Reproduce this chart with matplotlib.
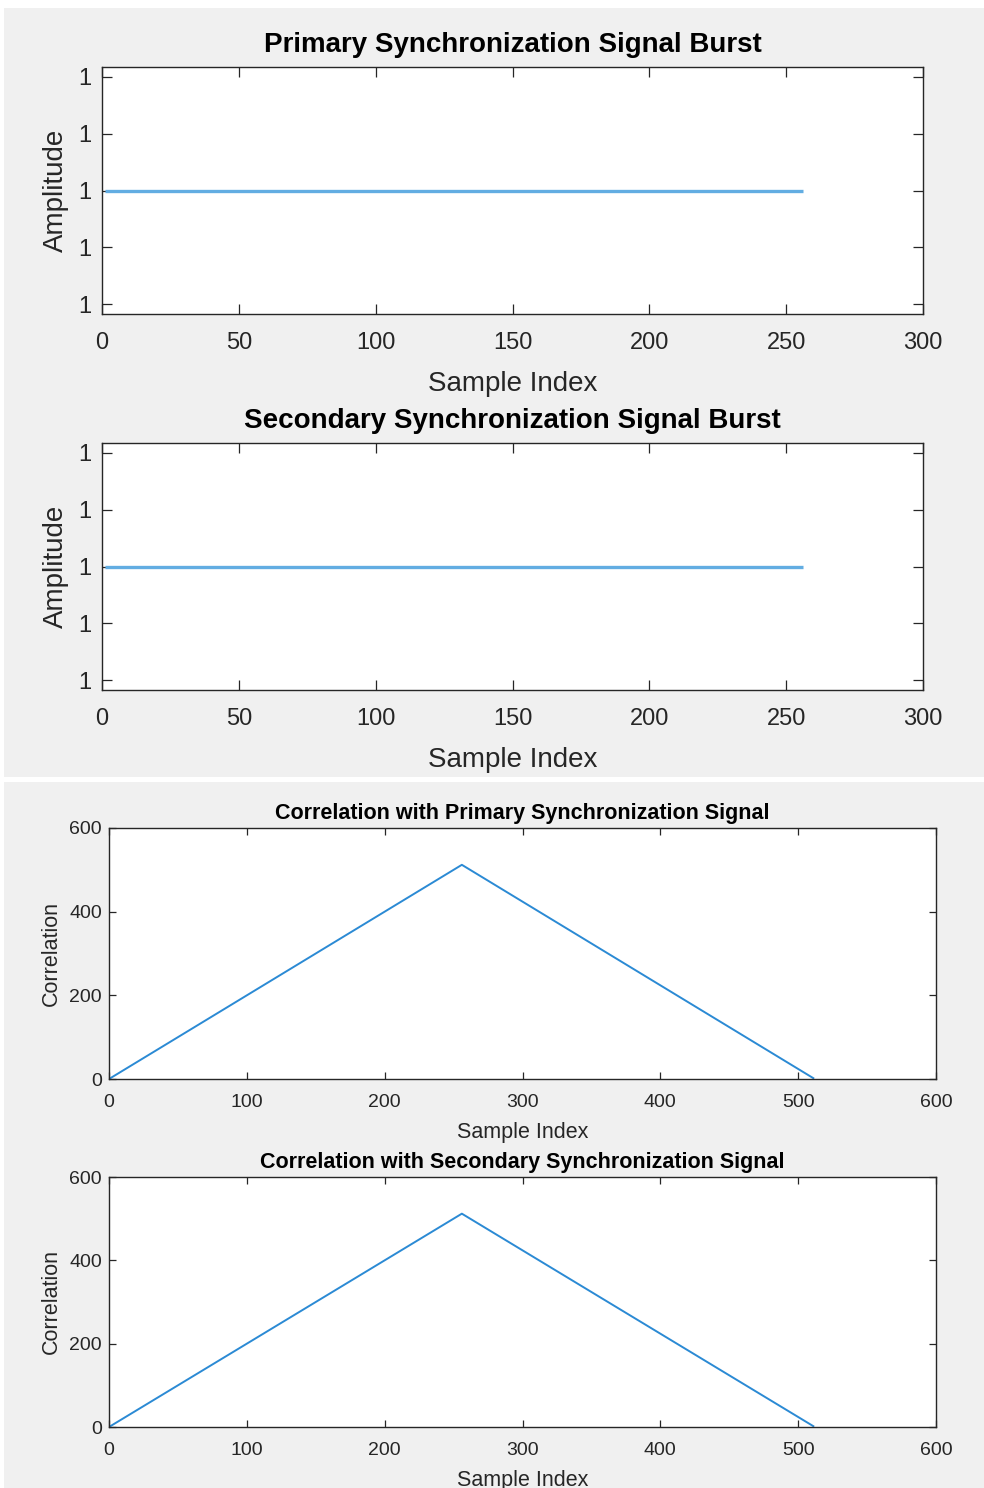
import matplotlib
matplotlib.use('Agg')
import matplotlib.pyplot as plt
from matplotlib.patches import Rectangle

plt.rcParams['font.family'] = ['Liberation Sans', 'DejaVu Sans']

# burst signals (all ones, 256 samples)
pss_index = [1, 256]
pss_amplitude = [1.0, 1.0]
sss_index = [1, 256]
sss_amplitude = [1.0, 1.0]

# correlation outputs (triangle breakpoints)
pss_lag = [1, 256, 511]
pss_corr = [2, 512, 2]
sss_lag = [1, 256, 511]
sss_corr = [2, 512, 2]

amp_ticks = [0.998, 0.999, 1.0, 1.001, 1.002]
amp_tick_labels = ['1', '1', '1', '1', '1']

W, H = 984, 1488
fig = plt.figure(figsize=(W / 100, H / 100), dpi=100)
fig.patch.set_facecolor('white')

# two gray MATLAB figure windows, kept behind the axes
fig.patches.append(Rectangle((4 / W, 1 - 777 / H), 980 / W, 769 / H,
                             transform=fig.transFigure, facecolor='#f0f0f0',
                             edgecolor='none', zorder=-10))
fig.patches.append(Rectangle((4 / W, 0), 980 / W, 1 - 782 / H,
                             transform=fig.transFigure, facecolor='#f0f0f0',
                             edgecolor='none', zorder=-10))

dark = '#262626'


def style_axes(ax, tick_size, tick_len, pad_x, pad_y):
    for s in ax.spines.values():
        s.set_color(dark)
        s.set_linewidth(1.0)
    ax.tick_params(direction='in', top=True, right=True, length=tick_len,
                   width=0.9, colors=dark, labelsize=tick_size)
    ax.tick_params(axis='x', pad=pad_x)
    ax.tick_params(axis='y', pad=pad_y)
    ax.set_facecolor('white')


def burst_axes(rect, x, y, title):
    ax = fig.add_axes(rect)
    ax.plot(x, y, color='#62ade2', linewidth=2.4, solid_capstyle='butt')
    ax.set_xlim(0, 300)
    ax.set_ylim(1 - 0.00217, 1 + 0.00217)
    ax.set_xticks([0, 50, 100, 150, 200, 250, 300])
    ax.set_yticks(amp_ticks)
    ax.set_yticklabels(amp_tick_labels)
    style_axes(ax, 17, 7, 13, 8)
    ax.set_title(title, fontsize=20, fontweight='bold', color='black', pad=11)
    ax.set_xlabel('Sample Index', fontsize=20, color=dark, labelpad=12)
    ax.set_ylabel('Amplitude', fontsize=20, color=dark, labelpad=6)
    return ax


def corr_axes(rect, x, y, title):
    ax = fig.add_axes(rect)
    ax.plot(x, y, color='#2b8ad4', linewidth=1.4)
    ax.set_xlim(0, 600)
    ax.set_ylim(0, 600)
    ax.set_xticks([0, 100, 200, 300, 400, 500, 600])
    ax.set_yticks([0, 200, 400, 600])
    style_axes(ax, 14, 5, 10.5, 5)
    ax.set_title(title, fontsize=15.5, fontweight='bold', color='black', pad=6.5)
    ax.set_xlabel('Sample Index', fontsize=15.5, color=dark, labelpad=8)
    ax.set_ylabel('Correlation', fontsize=15.5, color=dark, labelpad=5)
    return ax


burst_axes([102 / W, 1 - 314 / H, 821 / W, 247 / H], pss_index, pss_amplitude,
           'Primary Synchronization Signal Burst')
burst_axes([102 / W, 1 - 690 / H, 821 / W, 247 / H], sss_index, sss_amplitude,
           'Secondary Synchronization Signal Burst')
corr_axes([109 / W, 1 - 1079 / H, 827 / W, 251 / H], pss_lag, pss_corr,
          'Correlation with Primary Synchronization Signal')
corr_axes([109 / W, 1 - 1427 / H, 827 / W, 250 / H], sss_lag, sss_corr,
          'Correlation with Secondary Synchronization Signal')

fig.savefig('out.png', dpi=100, facecolor=fig.get_facecolor())
